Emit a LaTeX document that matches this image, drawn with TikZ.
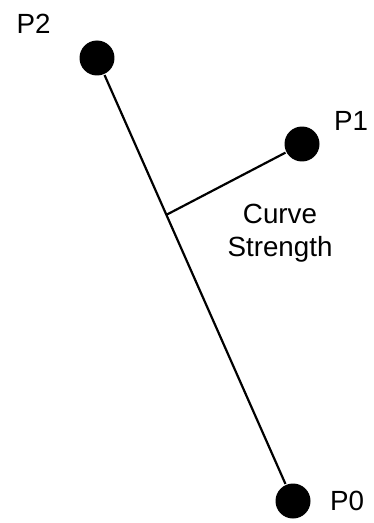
\documentclass[tikz,border=0pt]{standalone}
\usepackage{fontspec}
\setmainfont{Liberation Sans}
\usetikzlibrary{calc}
\tikzset{point/.style={circle,fill=black,inner sep=0pt,minimum size=.7cm},
  etiq/.style={inner sep=0pt,font=\fontsize{15.8}{18.7}\selectfont}}
\begin{document}
\begin{tikzpicture}[x=.02cm,y=-.02cm,line width=1.25pt]
\useasboundingbox (0,0) rectangle (373,523);
% Les trois points de controle et leurs noms.
\node[point] (p2) at (97,58) {};
\node[point] (p1) at (302,144) {};
\node[point] (p0) at (293,501) {};
\node[etiq] (nom2) at (33.5,23.5) {P2};
\node[etiq] (nom1) at (351,120.5) {P1};
\node[etiq] (nom0) at (347,501) {P0};
% La droite P2--P0 et le segment qui la relie a P1.
\coordinate (pied) at ($(p2)!.354!(p0)$);
\draw (p2) -- (p0);
\draw (p1) -- (pied);
\node[etiq,align=center] (force) at (280,233.5) {Curve\\Strength};
\end{tikzpicture}
\end{document}
